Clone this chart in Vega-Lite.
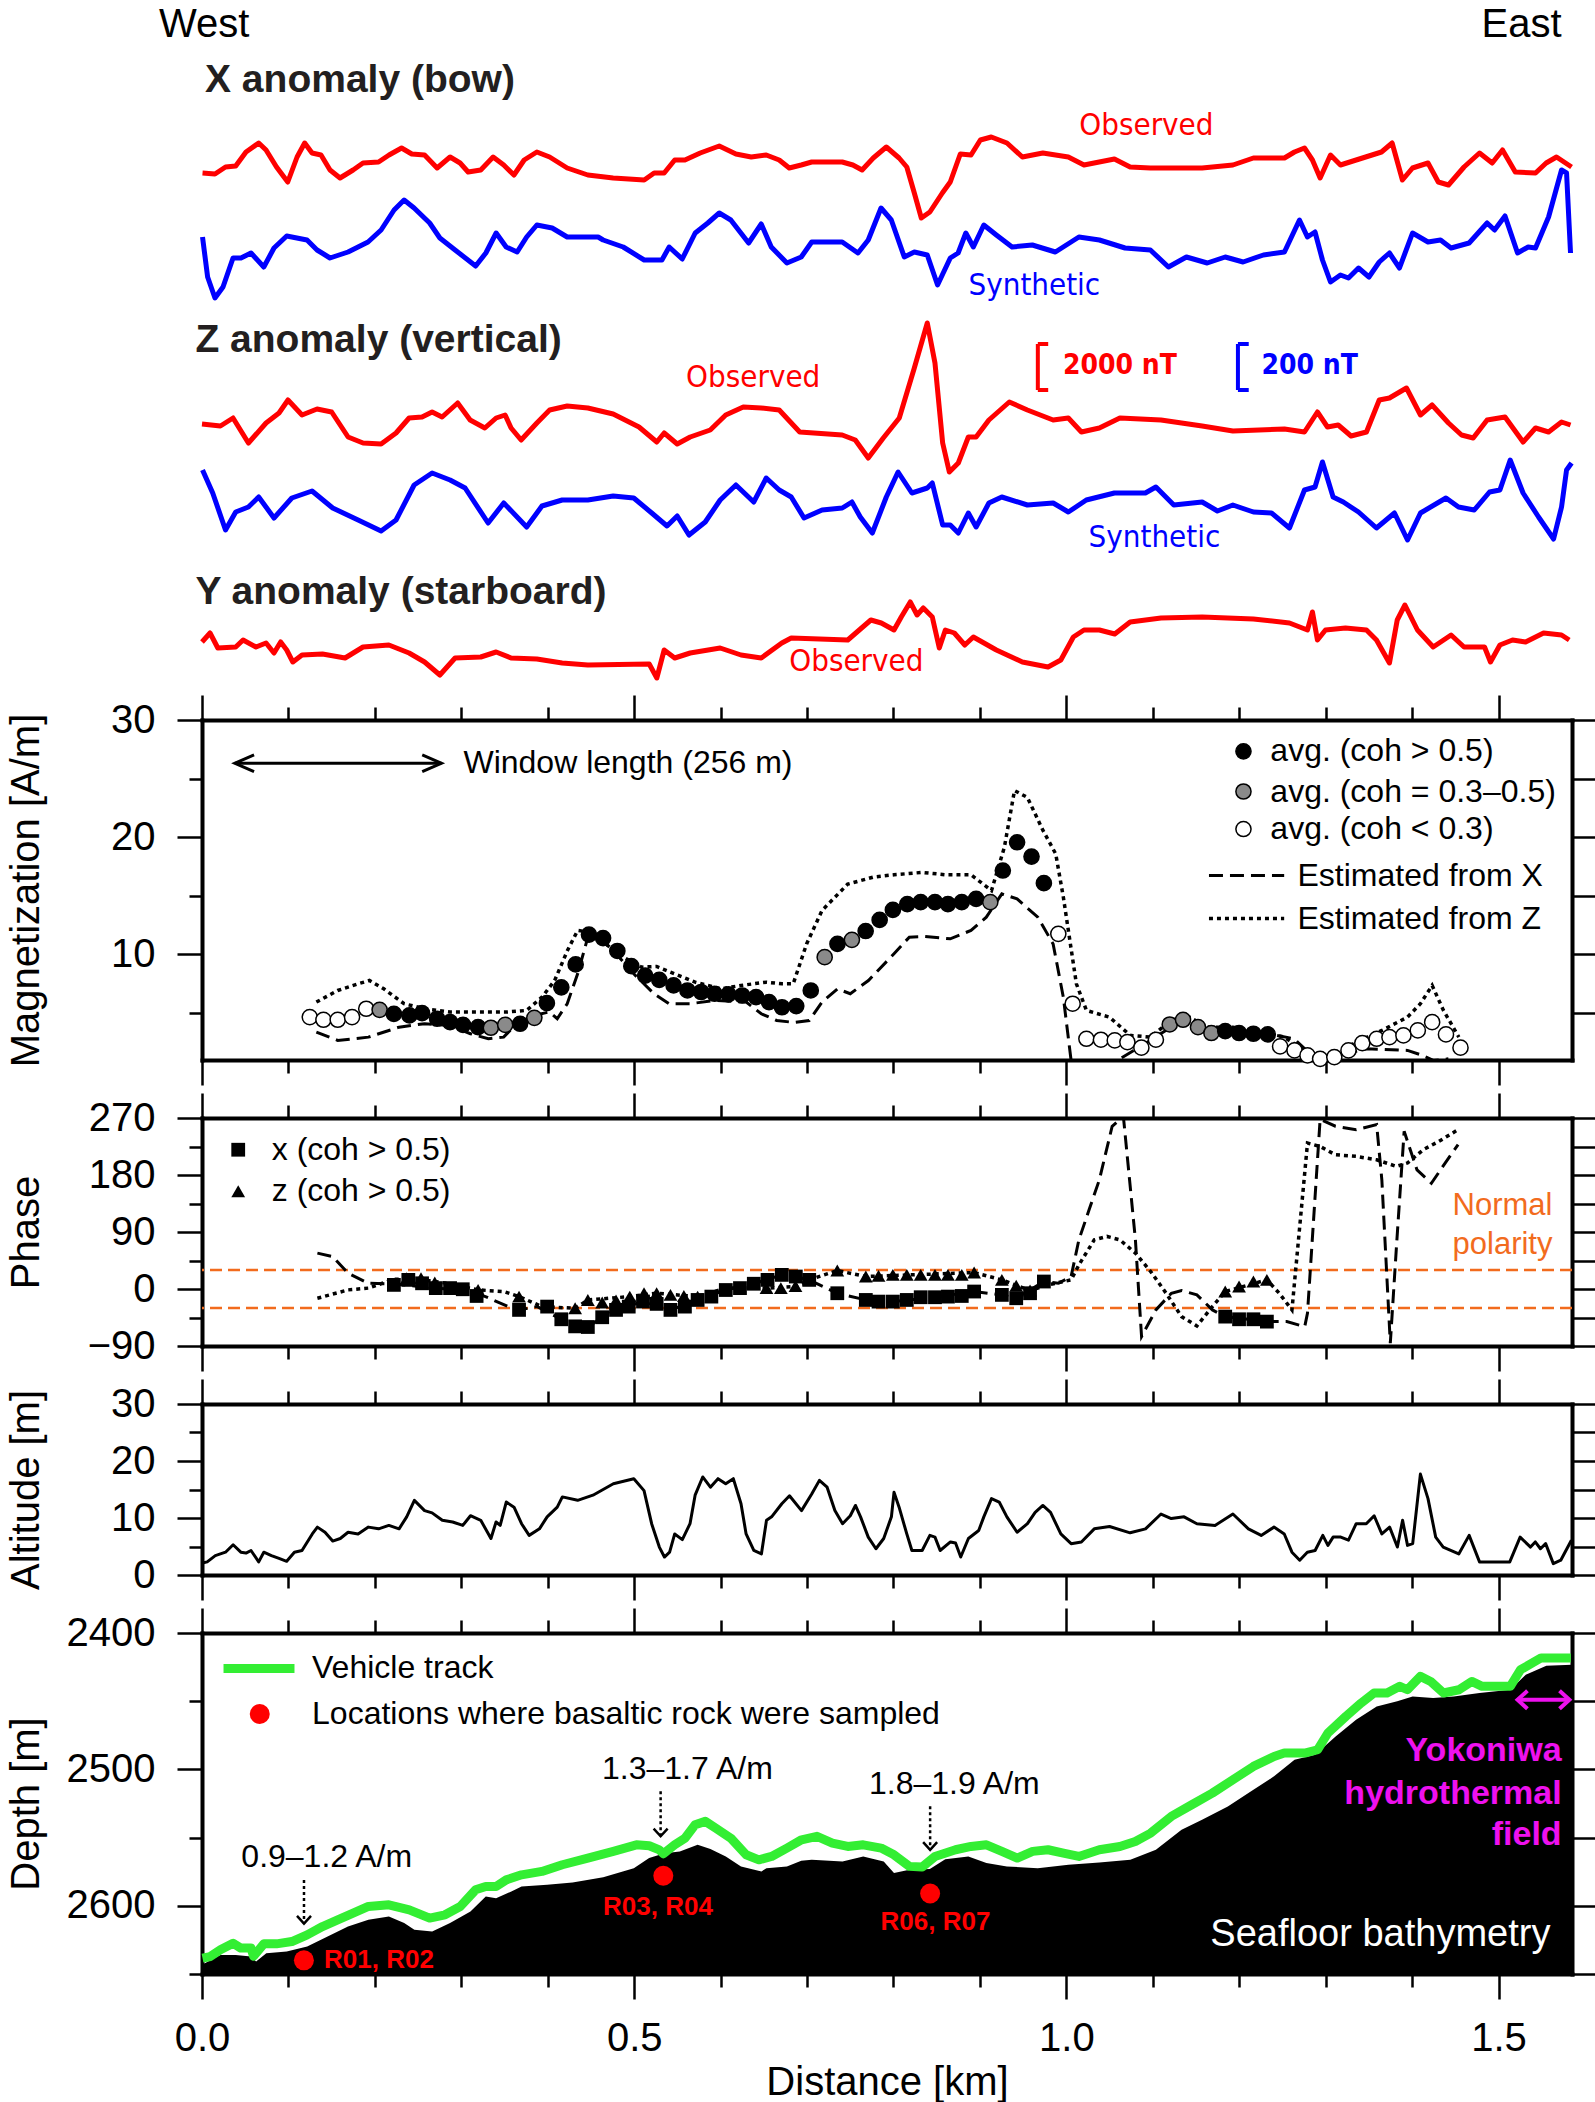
{
"$schema": "https://vega.github.io/schema/vega-lite/v6.json",
"background": "white",
"padding": {"left": 5, "top": 0, "right": 5, "bottom": 0},
"bounds": "flush",
"spacing": 58,
"config": {"view": {"stroke": null}, "font": "Liberation Sans",
 "axis": {"domainColor": "#000000", "domainWidth": 4, "domainCap": "square", "tickColor": "#000000", "tickWidth": 2.5, "labelColor": "#000000", "labelFont": "Liberation Sans", "labelFontSize": 40, "titleFont": "Liberation Sans", "titleFontSize": 40, "titleFontWeight": "normal", "titleColor": "#000000", "grid": false, "labelFlush": false, "labelOverlap": false, "labelBound": false}},
"datasets": {
 "xObs": [{"d":0.0006,"v":489},{"d":0.015,"v":488},{"d":0.0272,"v":495},{"d":0.039,"v":496},{"d":0.0509,"v":510},{"d":0.0656,"v":519},{"d":0.0741,"v":512},{"d":0.0862,"v":495},{"d":0.0992,"v":480},{"d":0.11,"v":505},{"d":0.1188,"v":519},{"d":0.1273,"v":509},{"d":0.1377,"v":507},{"d":0.1481,"v":492},{"d":0.1597,"v":484},{"d":0.1748,"v":492},{"d":0.1863,"v":499},{"d":0.2043,"v":500},{"d":0.2164,"v":507},{"d":0.2309,"v":514},{"d":0.2427,"v":508},{"d":0.2575,"v":507},{"d":0.272,"v":494},{"d":0.287,"v":505},{"d":0.2986,"v":499},{"d":0.3079,"v":490},{"d":0.3225,"v":492},{"d":0.3368,"v":505},{"d":0.3491,"v":497},{"d":0.3609,"v":487},{"d":0.3727,"v":502},{"d":0.3874,"v":510},{"d":0.4022,"v":505},{"d":0.4225,"v":494},{"d":0.4464,"v":487},{"d":0.4757,"v":484},{"d":0.5116,"v":482},{"d":0.5231,"v":489},{"d":0.5347,"v":489},{"d":0.5469,"v":502},{"d":0.5587,"v":502},{"d":0.5764,"v":509},{"d":0.5984,"v":516},{"d":0.6177,"v":508},{"d":0.6354,"v":505},{"d":0.6528,"v":507},{"d":0.6678,"v":502},{"d":0.6794,"v":494},{"d":0.6933,"v":497},{"d":0.7054,"v":500},{"d":0.7407,"v":500},{"d":0.753,"v":497},{"d":0.7637,"v":492},{"d":0.7766,"v":504},{"d":0.7917,"v":515},{"d":0.8065,"v":504},{"d":0.8154,"v":495},{"d":0.8241,"v":469},{"d":0.8322,"v":444},{"d":0.8421,"v":450},{"d":0.8565,"v":469},{"d":0.8657,"v":480},{"d":0.8773,"v":508},{"d":0.8897,"v":507},{"d":0.9005,"v":522},{"d":0.9132,"v":525},{"d":0.9313,"v":519},{"d":0.9491,"v":505},{"d":0.9728,"v":509},{"d":1.0023,"v":505},{"d":1.0204,"v":497},{"d":1.0556,"v":503},{"d":1.0738,"v":495},{"d":1.0972,"v":494},{"d":1.1571,"v":494},{"d":1.1927,"v":497},{"d":1.2164,"v":504},{"d":1.2523,"v":504},{"d":1.2639,"v":510},{"d":1.2755,"v":514},{"d":1.2847,"v":502},{"d":1.2936,"v":484},{"d":1.3056,"v":507},{"d":1.3171,"v":497},{"d":1.3353,"v":502},{"d":1.3646,"v":510},{"d":1.3769,"v":519},{"d":1.3888,"v":482},{"d":1.4005,"v":494},{"d":1.4184,"v":499},{"d":1.4303,"v":480},{"d":1.4421,"v":477},{"d":1.4601,"v":495},{"d":1.478,"v":509},{"d":1.4927,"v":499},{"d":1.5046,"v":512},{"d":1.5194,"v":490},{"d":1.5428,"v":489},{"d":1.5551,"v":499},{"d":1.5671,"v":505},{"d":1.5845,"v":495}],
 "xSyn": [{"d":0.0006,"v":425},{"d":0.0065,"v":385},{"d":0.015,"v":364},{"d":0.0243,"v":375},{"d":0.0359,"v":404},{"d":0.0451,"v":404},{"d":0.0567,"v":409},{"d":0.0715,"v":395},{"d":0.0833,"v":414},{"d":0.098,"v":426},{"d":0.1215,"v":422},{"d":0.1331,"v":412},{"d":0.1481,"v":404},{"d":0.169,"v":410},{"d":0.1921,"v":420},{"d":0.2072,"v":432},{"d":0.2222,"v":452},{"d":0.2338,"v":462},{"d":0.2454,"v":454},{"d":0.2634,"v":439},{"d":0.2752,"v":424},{"d":0.2928,"v":412},{"d":0.3166,"v":396},{"d":0.3284,"v":409},{"d":0.3403,"v":429},{"d":0.3519,"v":415},{"d":0.3646,"v":410},{"d":0.3756,"v":425},{"d":0.3874,"v":437},{"d":0.4051,"v":434},{"d":0.4225,"v":425},{"d":0.4583,"v":425},{"d":0.4641,"v":422},{"d":0.4873,"v":415},{"d":0.5116,"v":402},{"d":0.5321,"v":402},{"d":0.5405,"v":415},{"d":0.5556,"v":403},{"d":0.5706,"v":429},{"d":0.5852,"v":439},{"d":0.5984,"v":449},{"d":0.6118,"v":442},{"d":0.6324,"v":419},{"d":0.647,"v":438},{"d":0.6586,"v":415},{"d":0.6767,"v":399},{"d":0.6933,"v":405},{"d":0.7054,"v":420},{"d":0.7407,"v":420},{"d":0.7589,"v":409},{"d":0.7708,"v":422},{"d":0.7856,"v":454},{"d":0.7975,"v":442},{"d":0.8125,"v":405},{"d":0.8241,"v":410},{"d":0.8391,"v":407},{"d":0.851,"v":377},{"d":0.8657,"v":404},{"d":0.8748,"v":409},{"d":0.8837,"v":429},{"d":0.8924,"v":415},{"d":0.9045,"v":437},{"d":0.919,"v":427},{"d":0.9372,"v":415},{"d":0.9606,"v":417},{"d":0.9873,"v":410},{"d":1.0145,"v":425},{"d":1.0382,"v":422},{"d":1.0679,"v":414},{"d":1.0972,"v":412},{"d":1.1181,"v":395},{"d":1.1389,"v":405},{"d":1.163,"v":399},{"d":1.1838,"v":405},{"d":1.2045,"v":400},{"d":1.228,"v":407},{"d":1.2523,"v":410},{"d":1.2697,"v":442},{"d":1.2789,"v":425},{"d":1.2877,"v":430},{"d":1.2963,"v":402},{"d":1.3056,"v":380},{"d":1.3171,"v":387},{"d":1.3264,"v":384},{"d":1.338,"v":394},{"d":1.3501,"v":385},{"d":1.362,"v":400},{"d":1.3738,"v":409},{"d":1.3854,"v":394},{"d":1.4005,"v":429},{"d":1.4184,"v":420},{"d":1.4329,"v":422},{"d":1.4451,"v":414},{"d":1.466,"v":419},{"d":1.4868,"v":439},{"d":1.4954,"v":432},{"d":1.5075,"v":446},{"d":1.522,"v":409},{"d":1.5343,"v":415},{"d":1.5428,"v":414},{"d":1.5579,"v":445},{"d":1.5729,"v":492},{"d":1.5787,"v":489},{"d":1.5833,"v":409}],
 "zObs": [{"d":0.0,"v":238},{"d":0.0213,"v":236},{"d":0.0359,"v":244},{"d":0.0537,"v":219},{"d":0.0741,"v":239},{"d":0.0891,"v":249},{"d":0.0995,"v":262},{"d":0.1157,"v":247},{"d":0.1331,"v":253},{"d":0.15,"v":250},{"d":0.169,"v":225},{"d":0.1863,"v":219},{"d":0.2072,"v":218},{"d":0.2245,"v":229},{"d":0.2396,"v":244},{"d":0.2546,"v":245},{"d":0.2662,"v":250},{"d":0.2778,"v":245},{"d":0.2958,"v":259},{"d":0.3102,"v":242},{"d":0.3272,"v":234},{"d":0.3403,"v":244},{"d":0.3507,"v":247},{"d":0.3576,"v":234},{"d":0.3692,"v":222},{"d":0.3874,"v":239},{"d":0.4022,"v":252},{"d":0.4225,"v":256},{"d":0.4464,"v":254},{"d":0.4757,"v":248},{"d":0.5056,"v":235},{"d":0.5262,"v":220},{"d":0.5347,"v":229},{"d":0.5498,"v":218},{"d":0.5648,"v":225},{"d":0.588,"v":232},{"d":0.6059,"v":247},{"d":0.6262,"v":255},{"d":0.647,"v":254},{"d":0.6678,"v":252},{"d":0.6915,"v":230},{"d":0.7407,"v":227},{"d":0.7558,"v":222},{"d":0.7708,"v":204},{"d":0.7882,"v":224},{"d":0.8067,"v":244},{"d":0.8241,"v":294},{"d":0.8391,"v":339},{"d":0.848,"v":299},{"d":0.8569,"v":219},{"d":0.8646,"v":190},{"d":0.875,"v":199},{"d":0.8866,"v":225},{"d":0.8956,"v":225},{"d":0.9104,"v":242},{"d":0.934,"v":260},{"d":0.9549,"v":252},{"d":0.9847,"v":242},{"d":1.0023,"v":244},{"d":1.0174,"v":230},{"d":1.0382,"v":234},{"d":1.0619,"v":244},{"d":1.1095,"v":242},{"d":1.1571,"v":236},{"d":1.1927,"v":231},{"d":1.2523,"v":233},{"d":1.2755,"v":230},{"d":1.2905,"v":250},{"d":1.3021,"v":235},{"d":1.3145,"v":237},{"d":1.3294,"v":226},{"d":1.3472,"v":230},{"d":1.362,"v":262},{"d":1.3738,"v":264},{"d":1.3935,"v":274},{"d":1.4097,"v":247},{"d":1.4231,"v":257},{"d":1.4421,"v":239},{"d":1.4572,"v":227},{"d":1.4707,"v":224},{"d":1.4868,"v":242},{"d":1.5075,"v":245},{"d":1.5284,"v":220},{"d":1.5428,"v":234},{"d":1.5579,"v":230},{"d":1.5729,"v":240},{"d":1.5833,"v":237}],
 "zSyn": [{"d":0.0006,"v":192},{"d":0.0124,"v":169},{"d":0.0272,"v":132},{"d":0.039,"v":150},{"d":0.0537,"v":155},{"d":0.0656,"v":165},{"d":0.0833,"v":144},{"d":0.1039,"v":164},{"d":0.1273,"v":171},{"d":0.1512,"v":154},{"d":0.1806,"v":142},{"d":0.2072,"v":131},{"d":0.2245,"v":142},{"d":0.2454,"v":177},{"d":0.2662,"v":189},{"d":0.287,"v":182},{"d":0.3044,"v":174},{"d":0.331,"v":139},{"d":0.3491,"v":159},{"d":0.3756,"v":135},{"d":0.3933,"v":156},{"d":0.4167,"v":162},{"d":0.4464,"v":162},{"d":0.4757,"v":166},{"d":0.4995,"v":164},{"d":0.5203,"v":149},{"d":0.538,"v":136},{"d":0.5498,"v":146},{"d":0.5634,"v":127},{"d":0.5822,"v":140},{"d":0.5995,"v":162},{"d":0.6177,"v":177},{"d":0.6383,"v":160},{"d":0.6528,"v":184},{"d":0.6678,"v":172},{"d":0.6817,"v":165},{"d":0.6965,"v":144},{"d":0.7174,"v":152},{"d":0.7407,"v":154},{"d":0.7519,"v":160},{"d":0.7616,"v":145},{"d":0.7755,"v":129},{"d":0.7917,"v":165},{"d":0.8053,"v":190},{"d":0.8213,"v":169},{"d":0.8391,"v":174},{"d":0.8449,"v":179},{"d":0.8569,"v":137},{"d":0.8657,"v":137},{"d":0.875,"v":129},{"d":0.8866,"v":149},{"d":0.8956,"v":135},{"d":0.9104,"v":159},{"d":0.9253,"v":165},{"d":0.9549,"v":157},{"d":0.9847,"v":159},{"d":1.0023,"v":150},{"d":1.0231,"v":162},{"d":1.0556,"v":169},{"d":1.0914,"v":169},{"d":1.1036,"v":175},{"d":1.1243,"v":157},{"d":1.1571,"v":160},{"d":1.1748,"v":151},{"d":1.1927,"v":157},{"d":1.2164,"v":150},{"d":1.2373,"v":149},{"d":1.2581,"v":134},{"d":1.2755,"v":172},{"d":1.2877,"v":175},{"d":1.2963,"v":200},{"d":1.3086,"v":165},{"d":1.3204,"v":160},{"d":1.338,"v":150},{"d":1.3588,"v":134},{"d":1.3796,"v":149},{"d":1.3947,"v":122},{"d":1.4097,"v":149},{"d":1.4392,"v":164},{"d":1.4537,"v":155},{"d":1.4719,"v":152},{"d":1.4896,"v":170},{"d":1.5016,"v":172},{"d":1.5135,"v":202},{"d":1.5284,"v":169},{"d":1.5463,"v":145},{"d":1.5637,"v":123},{"d":1.5729,"v":155},{"d":1.5787,"v":192},{"d":1.5845,"v":199}],
 "yObs": [{"d":0.0,"v":20},{"d":0.0093,"v":29},{"d":0.0183,"v":14},{"d":0.039,"v":15},{"d":0.0475,"v":22},{"d":0.0625,"v":15},{"d":0.0741,"v":19},{"d":0.0833,"v":9},{"d":0.091,"v":20},{"d":0.098,"v":12},{"d":0.1051,"v":0},{"d":0.1157,"v":7},{"d":0.1394,"v":8},{"d":0.1655,"v":4},{"d":0.1863,"v":15},{"d":0.2162,"v":17},{"d":0.2396,"v":9},{"d":0.2575,"v":0},{"d":0.2752,"v":-13},{"d":0.2928,"v":4},{"d":0.3225,"v":5},{"d":0.3403,"v":10},{"d":0.3576,"v":4},{"d":0.3874,"v":3},{"d":0.4167,"v":-1},{"d":0.4464,"v":-3},{"d":0.5174,"v":-2},{"d":0.5262,"v":-16},{"d":0.5347,"v":12},{"d":0.5469,"v":4},{"d":0.5648,"v":9},{"d":0.5995,"v":14},{"d":0.6236,"v":7},{"d":0.647,"v":4},{"d":0.6708,"v":19},{"d":0.6817,"v":24},{"d":0.7471,"v":22},{"d":0.7738,"v":42},{"d":0.7859,"v":39},{"d":0.8006,"v":32},{"d":0.809,"v":45},{"d":0.8194,"v":60},{"d":0.8273,"v":47},{"d":0.8345,"v":54},{"d":0.8449,"v":45},{"d":0.853,"v":14},{"d":0.86,"v":32},{"d":0.8704,"v":29},{"d":0.8825,"v":17},{"d":0.8924,"v":25},{"d":0.919,"v":12},{"d":0.9491,"v":0},{"d":0.9788,"v":-5},{"d":0.9936,"v":2},{"d":1.0081,"v":25},{"d":1.0204,"v":32},{"d":1.0382,"v":32},{"d":1.056,"v":28},{"d":1.0738,"v":40},{"d":1.1095,"v":44},{"d":1.1571,"v":45},{"d":1.2164,"v":43},{"d":1.2581,"v":39},{"d":1.2789,"v":32},{"d":1.2847,"v":50},{"d":1.2905,"v":22},{"d":1.2998,"v":32},{"d":1.3229,"v":34},{"d":1.3472,"v":32},{"d":1.3588,"v":22},{"d":1.3738,"v":-1},{"d":1.3828,"v":42},{"d":1.3917,"v":57},{"d":1.4062,"v":32},{"d":1.4244,"v":15},{"d":1.4451,"v":27},{"d":1.4601,"v":15},{"d":1.4838,"v":15},{"d":1.4907,"v":0},{"d":1.5016,"v":17},{"d":1.5162,"v":22},{"d":1.5313,"v":20},{"d":1.5521,"v":29},{"d":1.5729,"v":27},{"d":1.5818,"v":22}],
 "anomTitles": [{"text":"X anomaly (bow)","d":0.0035,"v":582},{"text":"Z anomaly (vertical)","d":-0.0076,"v":322},{"text":"Y anomaly (starboard)","d":-0.0076,"v":70}],
 "ewLabels": [{"text":"West","side":"W","d":-0.0498,"v":637},{"text":"East","side":"E","d":1.5729,"v":637}],
 "traceLabels": [{"text":"Observed","kind":"obs","d":1.0926,"v":536},{"text":"Observed","kind":"obs","d":0.6377,"v":284},{"text":"Observed","kind":"obs","d":0.757,"v":0},{"text":"Synthetic","kind":"syn","d":0.963,"v":376},{"text":"Synthetic","kind":"syn","d":1.1019,"v":124}],
 "scaleBars": [{"bar":"red","d":0.967,"d2":0.967,"v":272,"v2":318},{"bar":"red","d":0.967,"d2":0.979,"v":318,"v2":318},{"bar":"red","d":0.967,"d2":0.979,"v":272,"v2":272},{"bar":"blue","d":1.1985,"d2":1.1985,"v":272,"v2":318},{"bar":"blue","d":1.1985,"d2":1.211,"v":318,"v2":318},{"bar":"blue","d":1.1985,"d2":1.211,"v":272,"v2":272}],
 "scaleText": [{"bar":"red","text":"2000 nT","d":0.996,"v":296},{"bar":"blue","text":"200 nT","d":1.2257,"v":296}],
 "magDots": [{"d":0.1247,"m":4.66,"c":"lo"},{"d":0.1405,"m":4.43,"c":"lo"},{"d":0.157,"m":4.43,"c":"lo"},{"d":0.1736,"m":4.66,"c":"lo"},{"d":0.19,"m":5.37,"c":"lo"},{"d":0.2055,"m":5.28,"c":"mid"},{"d":0.222,"m":4.94,"c":"hi"},{"d":0.24,"m":4.8,"c":"hi"},{"d":0.2546,"m":5.0,"c":"hi"},{"d":0.272,"m":4.52,"c":"hi"},{"d":0.287,"m":4.23,"c":"hi"},{"d":0.302,"m":4.0,"c":"hi"},{"d":0.3194,"m":3.8,"c":"hi"},{"d":0.3342,"m":3.75,"c":"mid"},{"d":0.3508,"m":4.0,"c":"mid"},{"d":0.368,"m":4.09,"c":"hi"},{"d":0.3845,"m":4.6,"c":"mid"},{"d":0.399,"m":5.85,"c":"hi"},{"d":0.4157,"m":7.2,"c":"hi"},{"d":0.4323,"m":9.15,"c":"hi"},{"d":0.4477,"m":11.7,"c":"hi"},{"d":0.464,"m":11.4,"c":"hi"},{"d":0.4805,"m":10.3,"c":"hi"},{"d":0.4967,"m":9.0,"c":"hi"},{"d":0.5127,"m":8.2,"c":"hi"},{"d":0.529,"m":7.84,"c":"hi"},{"d":0.5456,"m":7.36,"c":"hi"},{"d":0.5616,"m":6.93,"c":"hi"},{"d":0.5775,"m":6.8,"c":"hi"},{"d":0.593,"m":6.65,"c":"hi"},{"d":0.609,"m":6.6,"c":"hi"},{"d":0.625,"m":6.5,"c":"hi"},{"d":0.641,"m":6.36,"c":"hi"},{"d":0.656,"m":5.94,"c":"hi"},{"d":0.671,"m":5.5,"c":"hi"},{"d":0.6875,"m":5.6,"c":"hi"},{"d":0.7043,"m":6.93,"c":"hi"},{"d":0.7204,"m":9.77,"c":"mid"},{"d":0.7352,"m":10.9,"c":"hi"},{"d":0.7519,"m":11.25,"c":"mid"},{"d":0.7678,"m":12.0,"c":"hi"},{"d":0.784,"m":12.95,"c":"hi"},{"d":0.7993,"m":13.8,"c":"hi"},{"d":0.816,"m":14.3,"c":"hi"},{"d":0.8315,"m":14.46,"c":"hi"},{"d":0.848,"m":14.46,"c":"hi"},{"d":0.863,"m":14.3,"c":"hi"},{"d":0.879,"m":14.46,"c":"hi"},{"d":0.8956,"m":14.74,"c":"hi"},{"d":0.912,"m":14.46,"c":"mid"},{"d":0.9265,"m":17.16,"c":"hi"},{"d":0.943,"m":19.57,"c":"hi"},{"d":0.9597,"m":18.35,"c":"hi"},{"d":0.974,"m":16.08,"c":"hi"},{"d":0.9907,"m":11.76,"c":"lo"},{"d":1.0073,"m":5.8,"c":"lo"},{"d":1.0232,"m":2.81,"c":"lo"},{"d":1.04,"m":2.73,"c":"lo"},{"d":1.056,"m":2.67,"c":"lo"},{"d":1.0706,"m":2.53,"c":"lo"},{"d":1.0868,"m":2.05,"c":"lo"},{"d":1.1036,"m":2.73,"c":"lo"},{"d":1.1196,"m":4.03,"c":"mid"},{"d":1.135,"m":4.43,"c":"mid"},{"d":1.1523,"m":3.8,"c":"mid"},{"d":1.1678,"m":3.3,"c":"mid"},{"d":1.1838,"m":3.47,"c":"hi"},{"d":1.1998,"m":3.3,"c":"hi"},{"d":1.2164,"m":3.24,"c":"hi"},{"d":1.233,"m":3.18,"c":"hi"},{"d":1.2473,"m":2.16,"c":"lo"},{"d":1.264,"m":1.82,"c":"lo"},{"d":1.279,"m":1.39,"c":"lo"},{"d":1.2936,"m":1.1,"c":"lo"},{"d":1.31,"m":1.25,"c":"lo"},{"d":1.3264,"m":1.82,"c":"lo"},{"d":1.3424,"m":2.44,"c":"lo"},{"d":1.359,"m":2.81,"c":"lo"},{"d":1.3738,"m":2.95,"c":"lo"},{"d":1.39,"m":3.1,"c":"lo"},{"d":1.4066,"m":3.52,"c":"lo"},{"d":1.4232,"m":4.23,"c":"lo"},{"d":1.4392,"m":3.18,"c":"lo"},{"d":1.456,"m":2.05,"c":"lo"}],
 "magX": [{"d":0.1323,"m":3.38},{"d":0.157,"m":2.67},{"d":0.1925,"m":2.95},{"d":0.228,"m":3.8},{"d":0.2575,"m":4.1},{"d":0.287,"m":3.95},{"d":0.3106,"m":3.24},{"d":0.3313,"m":2.81},{"d":0.349,"m":2.95},{"d":0.3638,"m":4.1},{"d":0.384,"m":4.8},{"d":0.402,"m":5.1},{"d":0.411,"m":4.52},{"d":0.4225,"m":5.8},{"d":0.4346,"m":8.35},{"d":0.4465,"m":11.5},{"d":0.455,"m":11.76},{"d":0.4757,"m":10.34},{"d":0.4995,"m":8.35},{"d":0.523,"m":6.65},{"d":0.5405,"m":5.8},{"d":0.5646,"m":5.8},{"d":0.594,"m":6.08},{"d":0.6296,"m":5.94},{"d":0.647,"m":4.94},{"d":0.665,"m":4.37},{"d":0.685,"m":4.2},{"d":0.7025,"m":4.37},{"d":0.7173,"m":5.94},{"d":0.7352,"m":7.07},{"d":0.75,"m":6.65},{"d":0.771,"m":7.78},{"d":0.8006,"m":10.06},{"d":0.8183,"m":11.48},{"d":0.8362,"m":11.53},{"d":0.8657,"m":11.34},{"d":0.8897,"m":12.05},{"d":0.9074,"m":13.18},{"d":0.9254,"m":15.17},{"d":0.943,"m":14.74},{"d":0.967,"m":13.18},{"d":0.9847,"m":10.9},{"d":0.9965,"m":6.36},{"d":1.0055,"m":0.96},{"d":1.02,"m":-0.5},{"d":1.045,"m":-0.5},{"d":1.062,"m":1.1},{"d":1.08,"m":1.9},{"d":1.097,"m":2.67},{"d":1.133,"m":4.37},{"d":1.169,"m":3.52},{"d":1.1986,"m":3.24},{"d":1.234,"m":3.24},{"d":1.2636,"m":2.81},{"d":1.2818,"m":1.53},{"d":1.294,"m":0.96},{"d":1.305,"m":0.3},{"d":1.315,"m":0.6},{"d":1.323,"m":1.53},{"d":1.347,"m":1.96},{"d":1.3947,"m":1.82},{"d":1.412,"m":1.39},{"d":1.4244,"m":0.96},{"d":1.442,"m":1.1}],
 "magZ": [{"d":0.1323,"m":5.94},{"d":0.157,"m":6.93},{"d":0.1806,"m":7.5},{"d":0.1937,"m":7.78},{"d":0.2103,"m":7.07},{"d":0.2338,"m":5.8},{"d":0.2575,"m":5.37},{"d":0.287,"m":5.09},{"d":0.3225,"m":5.09},{"d":0.352,"m":5.09},{"d":0.3756,"m":5.23},{"d":0.3933,"m":6.36},{"d":0.408,"m":7.78},{"d":0.4228,"m":10.34},{"d":0.4346,"m":12.05},{"d":0.4494,"m":11.9},{"d":0.467,"m":10.9},{"d":0.4877,"m":9.77},{"d":0.5084,"m":8.92},{"d":0.526,"m":8.98},{"d":0.547,"m":8.35},{"d":0.5706,"m":7.64},{"d":0.6,"m":7.07},{"d":0.6236,"m":7.36},{"d":0.653,"m":7.64},{"d":0.671,"m":7.5},{"d":0.684,"m":7.5},{"d":0.6995,"m":10.9},{"d":0.7173,"m":13.75},{"d":0.747,"m":16.0},{"d":0.7766,"m":16.6},{"d":0.8006,"m":16.8},{"d":0.8332,"m":17.0},{"d":0.86,"m":16.8},{"d":0.8897,"m":16.8},{"d":0.9134,"m":15.45},{"d":0.9283,"m":19.15},{"d":0.94,"m":23.98},{"d":0.9549,"m":23.4},{"d":0.9728,"m":20.6},{"d":0.9877,"m":18.58},{"d":0.9965,"m":14.9},{"d":1.0116,"m":7.5},{"d":1.0232,"m":5.23},{"d":1.0498,"m":4.66},{"d":1.074,"m":3.1},{"d":1.0972,"m":2.95},{"d":1.1214,"m":4.37},{"d":1.1389,"m":4.8},{"d":1.163,"m":3.8},{"d":1.1927,"m":3.8},{"d":1.228,"m":3.38},{"d":1.252,"m":2.95},{"d":1.2758,"m":1.82},{"d":1.2936,"m":1.25},{"d":1.3113,"m":1.39},{"d":1.3353,"m":2.53},{"d":1.365,"m":3.52},{"d":1.3947,"m":4.66},{"d":1.4096,"m":5.8},{"d":1.4232,"m":7.36},{"d":1.4363,"m":5.23},{"d":1.4541,"m":2.95}],
 "magLegendSym": [{"d":1.2049,"m":27.33,"c":"hi"},{"d":1.2049,"m":23.9,"c":"mid"},{"d":1.2049,"m":20.7,"c":"lo"}],
 "magLegendText": [{"d":1.236,"m":27.33,"text":"avg. (coh > 0.5)"},{"d":1.236,"m":23.9,"text":"avg. (coh = 0.3–0.5)"},{"d":1.236,"m":20.7,"text":"avg. (coh < 0.3)"},{"d":1.2674,"m":16.73,"text":"Estimated from X"},{"d":1.2674,"m":13.06,"text":"Estimated from Z"},{"d":0.3025,"m":26.31,"text":"Window length (256 m)"}],
 "magLegendLines": [{"src":"X","d":1.165,"d2":1.252,"m":16.73},{"src":"Z","d":1.165,"d2":1.252,"m":13.06}],
 "windowArrow": [{"d":0.038,"d2":0.277,"m":26.31}],
 "windowHeads": [{"end":"L","d":0.038,"m":26.31},{"end":"R","d":0.277,"m":26.31}],
 "phasePts": [{"d":0.222,"p":6.5,"comp":"x"},{"d":0.2387,"p":14.4,"comp":"x"},{"d":0.2546,"p":9,"comp":"x"},{"d":0.2705,"p":1.4,"comp":"x"},{"d":0.287,"p":1.4,"comp":"x"},{"d":0.3017,"p":-0.4,"comp":"x"},{"d":0.3177,"p":-11,"comp":"x"},{"d":0.3668,"p":-33,"comp":"x"},{"d":0.3993,"p":-27.8,"comp":"x"},{"d":0.4157,"p":-47.8,"comp":"x"},{"d":0.4317,"p":-59,"comp":"x"},{"d":0.4464,"p":-60,"comp":"x"},{"d":0.463,"p":-44.6,"comp":"x"},{"d":0.479,"p":-33,"comp":"x"},{"d":0.4937,"p":-27.8,"comp":"x"},{"d":0.5102,"p":-19.8,"comp":"x"},{"d":0.526,"p":-23.5,"comp":"x"},{"d":0.542,"p":-33,"comp":"x"},{"d":0.5587,"p":-27.8,"comp":"x"},{"d":0.5734,"p":-17.3,"comp":"x"},{"d":0.5893,"p":-12,"comp":"x"},{"d":0.606,"p":-1.6,"comp":"x"},{"d":0.6224,"p":1.4,"comp":"x"},{"d":0.6384,"p":8.3,"comp":"x"},{"d":0.6543,"p":14.4,"comp":"x"},{"d":0.6708,"p":22.3,"comp":"x"},{"d":0.687,"p":19.7,"comp":"x"},{"d":0.7025,"p":14.4,"comp":"x"},{"d":0.735,"p":-6.7,"comp":"x"},{"d":0.768,"p":-17.3,"comp":"x"},{"d":0.7827,"p":-19.9,"comp":"x"},{"d":0.7993,"p":-19.9,"comp":"x"},{"d":0.8154,"p":-17.3,"comp":"x"},{"d":0.8315,"p":-13,"comp":"x"},{"d":0.848,"p":-13,"comp":"x"},{"d":0.863,"p":-12,"comp":"x"},{"d":0.879,"p":-11,"comp":"x"},{"d":0.8933,"p":-4,"comp":"x"},{"d":0.9254,"p":-9.3,"comp":"x"},{"d":0.942,"p":-14.6,"comp":"x"},{"d":0.958,"p":-6.7,"comp":"x"},{"d":0.974,"p":11.8,"comp":"x"},{"d":1.1838,"p":-43.6,"comp":"x"},{"d":1.1998,"p":-47.8,"comp":"x"},{"d":1.2164,"p":-47.8,"comp":"x"},{"d":1.232,"p":-51.5,"comp":"x"},
  {"d":0.2368,"p":17,"comp":"z"},{"d":0.2534,"p":17,"comp":"z"},{"d":0.2693,"p":10.2,"comp":"z"},{"d":0.3194,"p":-1.4,"comp":"z"},{"d":0.3668,"p":-12,"comp":"z"},{"d":0.4317,"p":-30.4,"comp":"z"},{"d":0.4464,"p":-17.3,"comp":"z"},{"d":0.463,"p":-21.4,"comp":"z"},{"d":0.479,"p":-18.3,"comp":"z"},{"d":0.4949,"p":-12,"comp":"z"},{"d":0.5114,"p":-6.7,"comp":"z"},{"d":0.526,"p":-6.7,"comp":"z"},{"d":0.542,"p":-9.3,"comp":"z"},{"d":0.5575,"p":-11,"comp":"z"},{"d":0.5734,"p":-12,"comp":"z"},{"d":0.6531,"p":1.4,"comp":"z"},{"d":0.6697,"p":1.4,"comp":"z"},{"d":0.6866,"p":4.5,"comp":"z"},{"d":0.7025,"p":14.4,"comp":"z"},{"d":0.735,"p":29.2,"comp":"z"},{"d":0.768,"p":19.7,"comp":"z"},{"d":0.7827,"p":20.7,"comp":"z"},{"d":0.7993,"p":22.3,"comp":"z"},{"d":0.8154,"p":22.3,"comp":"z"},{"d":0.8315,"p":22.3,"comp":"z"},{"d":0.848,"p":22.3,"comp":"z"},{"d":0.863,"p":22.3,"comp":"z"},{"d":0.879,"p":22.3,"comp":"z"},{"d":0.8933,"p":26,"comp":"z"},{"d":0.9254,"p":14.4,"comp":"z"},{"d":0.942,"p":5,"comp":"z"},{"d":0.958,"p":-2.4,"comp":"z"},{"d":1.1838,"p":-4,"comp":"z"},{"d":1.1998,"p":4,"comp":"z"},{"d":1.2164,"p":11.8,"comp":"z"},{"d":1.232,"p":14.4,"comp":"z"}],
 "phaseX": [{"d":0.1335,"p":56.6},{"d":0.151,"p":51.3},{"d":0.169,"p":25},{"d":0.1925,"p":9},{"d":0.222,"p":8},{"d":0.2693,"p":1.4},{"d":0.2987,"p":-1.4},{"d":0.328,"p":-12},{"d":0.3543,"p":-27.8},{"d":0.3668,"p":-33},{"d":0.3878,"p":-27.8},{"d":0.4157,"p":-47.8},{"d":0.4317,"p":-59},{"d":0.4464,"p":-60},{"d":0.463,"p":-44.6},{"d":0.479,"p":-33},{"d":0.5102,"p":-19.8},{"d":0.542,"p":-33},{"d":0.5734,"p":-17.3},{"d":0.606,"p":-1.6},{"d":0.6384,"p":8.3},{"d":0.6708,"p":22.3},{"d":0.687,"p":19.6},{"d":0.7025,"p":14.4},{"d":0.735,"p":-6.7},{"d":0.768,"p":-17.3},{"d":0.7993,"p":-19.9},{"d":0.848,"p":-13},{"d":0.8933,"p":-4},{"d":0.9254,"p":-9.3},{"d":0.942,"p":-14.6},{"d":0.974,"p":11.8},{"d":0.9907,"p":9},{"d":1.0055,"p":19.7},{"d":1.0145,"p":77.6},{"d":1.0263,"p":125},{"d":1.0382,"p":172.5},{"d":1.053,"p":257},{"d":1.066,"p":272},{"d":1.0799,"p":77.6},{"d":1.087,"p":-75},{"d":1.1036,"p":-33},{"d":1.1215,"p":-6.7},{"d":1.1333,"p":-2.4},{"d":1.151,"p":-9.3},{"d":1.169,"p":-33},{"d":1.1838,"p":-43.6},{"d":1.232,"p":-51.5},{"d":1.255,"p":-51.5},{"d":1.2758,"p":-59.4},{"d":1.279,"p":-38},{"d":1.2936,"p":268},{"d":1.3113,"p":257},{"d":1.3353,"p":251.5},{"d":1.359,"p":259.5},{"d":1.365,"p":172.5},{"d":1.3748,"p":-85.7},{"d":1.3819,"p":67},{"d":1.3908,"p":249},{"d":1.4057,"p":188},{"d":1.4223,"p":167},{"d":1.4384,"p":199},{"d":1.4532,"p":228}],
 "phaseZ": [{"d":0.1335,"p":-14.6},{"d":0.169,"p":-1.4},{"d":0.1925,"p":1.4},{"d":0.222,"p":15.4},{"d":0.2514,"p":15.4},{"d":0.287,"p":8.3},{"d":0.3194,"p":-1.4},{"d":0.349,"p":-4},{"d":0.3668,"p":-12},{"d":0.3933,"p":-27.8},{"d":0.4317,"p":-30.4},{"d":0.4464,"p":-17.3},{"d":0.4949,"p":-12},{"d":0.526,"p":-6.7},{"d":0.5734,"p":-12},{"d":0.606,"p":1.4},{"d":0.6531,"p":1.4},{"d":0.687,"p":4},{"d":0.7025,"p":14.4},{"d":0.735,"p":29.2},{"d":0.768,"p":19.7},{"d":0.8933,"p":26},{"d":0.9254,"p":14.4},{"d":0.958,"p":-2.4},{"d":0.9788,"p":6.5},{"d":1.0055,"p":14.4},{"d":1.0145,"p":38},{"d":1.0323,"p":77.6},{"d":1.047,"p":83},{"d":1.062,"p":77.6},{"d":1.0799,"p":56.6},{"d":1.0975,"p":27.7},{"d":1.1154,"p":-6.7},{"d":1.1333,"p":-43.6},{"d":1.151,"p":-58.3},{"d":1.169,"p":-27.8},{"d":1.1838,"p":-4},{"d":1.232,"p":14.4},{"d":1.2463,"p":-6.7},{"d":1.261,"p":-33},{"d":1.279,"p":230.5},{"d":1.2936,"p":225},{"d":1.3113,"p":212},{"d":1.3353,"p":209.4},{"d":1.359,"p":204},{"d":1.3819,"p":193.6},{"d":1.3947,"p":199},{"d":1.413,"p":220},{"d":1.4308,"p":233},{"d":1.4532,"p":251.5}],
 "phaseLegendSym": [{"d":0.0419,"p":219.9,"comp":"x"},{"d":0.0419,"p":154.3,"comp":"z"}],
 "phaseLegendText": [{"d":0.0807,"p":219.9,"text":"x (coh > 0.5)"},{"d":0.0807,"p":154.3,"text":"z (coh > 0.5)"}],
 "polarityBand": [{"p":30},{"p":-30}],
 "polarityText": [{"d":1.5046,"p":131.3,"text":"Normal"},{"d":1.5046,"p":69.7,"text":"polarity"}],
 "alt": [{"d":0.0006,"a":2.1},{"d":0.006,"a":2.3},{"d":0.0154,"a":3.4},{"d":0.0272,"a":4.0},{"d":0.036,"a":5.3},{"d":0.0449,"a":4.0},{"d":0.0509,"a":3.85},{"d":0.0567,"a":4.3},{"d":0.0656,"a":2.3},{"d":0.0715,"a":4.0},{"d":0.0803,"a":3.4},{"d":0.0891,"a":2.9},{"d":0.098,"a":2.4},{"d":0.1069,"a":4.0},{"d":0.1157,"a":4.3},{"d":0.1276,"a":7.2},{"d":0.1335,"a":8.4},{"d":0.1423,"a":7.5},{"d":0.1512,"a":5.95},{"d":0.16,"a":6.4},{"d":0.169,"a":7.5},{"d":0.1806,"a":7.2},{"d":0.1925,"a":8.4},{"d":0.2043,"a":8.1},{"d":0.2162,"a":8.7},{"d":0.228,"a":8.1},{"d":0.2368,"a":10.2},{"d":0.2457,"a":13.1},{"d":0.2575,"a":11.3},{"d":0.2662,"a":10.9},{"d":0.278,"a":9.6},{"d":0.29,"a":9.3},{"d":0.3017,"a":8.7},{"d":0.3106,"a":10.4},{"d":0.3225,"a":9.6},{"d":0.3343,"a":6.4},{"d":0.3402,"a":9.3},{"d":0.345,"a":8.7},{"d":0.352,"a":12.8},{"d":0.361,"a":11.9},{"d":0.3697,"a":9.0},{"d":0.3785,"a":6.95},{"d":0.3904,"a":8.1},{"d":0.3993,"a":10.2},{"d":0.411,"a":11.9},{"d":0.4169,"a":13.7},{"d":0.4346,"a":13.1},{"d":0.4523,"a":14.0},{"d":0.4759,"a":16.0},{"d":0.4996,"a":16.9},{"d":0.5114,"a":14.8},{"d":0.5202,"a":9.0},{"d":0.5291,"a":4.9},{"d":0.535,"a":3.15},{"d":0.541,"a":4.0},{"d":0.5469,"a":7.2},{"d":0.5557,"a":6.2},{"d":0.5646,"a":9.0},{"d":0.5705,"a":14.0},{"d":0.5793,"a":17.2},{"d":0.5882,"a":15.4},{"d":0.597,"a":16.9},{"d":0.6059,"a":16.0},{"d":0.6147,"a":16.9},{"d":0.6236,"a":12.5},{"d":0.6295,"a":7.2},{"d":0.6384,"a":4.3},{"d":0.6472,"a":3.7},{"d":0.6531,"a":9.6},{"d":0.659,"a":10.2},{"d":0.6708,"a":12.5},{"d":0.6797,"a":13.9},{"d":0.6936,"a":11.3},{"d":0.7054,"a":14.2},{"d":0.7143,"a":16.6},{"d":0.7232,"a":15.4},{"d":0.7322,"a":11.3},{"d":0.7411,"a":9.0},{"d":0.75,"a":10.4},{"d":0.756,"a":12.2},{"d":0.7619,"a":10.2},{"d":0.7708,"a":6.65},{"d":0.7797,"a":4.6},{"d":0.7887,"a":6.4},{"d":0.7976,"a":10.2},{"d":0.8006,"a":14.5},{"d":0.8065,"a":11.9},{"d":0.8154,"a":7.2},{"d":0.8213,"a":4.3},{"d":0.8332,"a":4.3},{"d":0.8421,"a":6.95},{"d":0.848,"a":6.65},{"d":0.854,"a":4.3},{"d":0.8659,"a":5.8},{"d":0.8718,"a":5.6},{"d":0.8778,"a":3.15},{"d":0.8867,"a":6.4},{"d":0.8986,"a":7.8},{"d":0.9045,"a":10.2},{"d":0.9134,"a":13.4},{"d":0.9223,"a":12.8},{"d":0.9312,"a":10.2},{"d":0.943,"a":7.5},{"d":0.955,"a":9.0},{"d":0.9639,"a":11.0},{"d":0.9728,"a":12.2},{"d":0.9817,"a":11.0},{"d":0.9936,"a":7.2},{"d":1.0055,"a":5.5},{"d":1.0174,"a":5.8},{"d":1.0323,"a":8.1},{"d":1.05,"a":8.5},{"d":1.0738,"a":7.4},{"d":1.0916,"a":8.1},{"d":1.1095,"a":10.7},{"d":1.1214,"a":9.9},{"d":1.1362,"a":10.2},{"d":1.151,"a":9.0},{"d":1.172,"a":8.7},{"d":1.1927,"a":10.7},{"d":1.2106,"a":8.1},{"d":1.2254,"a":6.95},{"d":1.2402,"a":8.4},{"d":1.2521,"a":7.2},{"d":1.261,"a":4.0},{"d":1.27,"a":2.6},{"d":1.2788,"a":4.0},{"d":1.2878,"a":4.3},{"d":1.2967,"a":6.95},{"d":1.3026,"a":5.2},{"d":1.3086,"a":6.65},{"d":1.3175,"a":6.65},{"d":1.3264,"a":6.1},{"d":1.3353,"a":9.0},{"d":1.347,"a":9.0},{"d":1.3561,"a":10.4},{"d":1.365,"a":7.2},{"d":1.374,"a":8.4},{"d":1.383,"a":4.9},{"d":1.389,"a":9.6},{"d":1.3947,"a":5.2},{"d":1.4007,"a":5.5},{"d":1.4096,"a":17.7},{"d":1.4184,"a":13.4},{"d":1.4273,"a":6.65},{"d":1.436,"a":4.9},{"d":1.454,"a":3.7},{"d":1.466,"a":6.95},{"d":1.478,"a":2.3},{"d":1.4956,"a":2.3},{"d":1.513,"a":2.3},{"d":1.525,"a":6.65},{"d":1.537,"a":4.9},{"d":1.5425,"a":5.8},{"d":1.5485,"a":4.6},{"d":1.5545,"a":5.5},{"d":1.5634,"a":2.0},{"d":1.572,"a":2.6},{"d":1.5843,"a":6.1}],
 "track": [{"d":0.0006,"z":2638.4},{"d":0.0095,"z":2637.2},{"d":0.0213,"z":2632.3},{"d":0.036,"z":2627.4},{"d":0.0449,"z":2631},{"d":0.0567,"z":2631},{"d":0.0597,"z":2637},{"d":0.0715,"z":2627.9},{"d":0.0862,"z":2627.9},{"d":0.104,"z":2626.2},{"d":0.1217,"z":2621.3},{"d":0.1394,"z":2615.2},{"d":0.157,"z":2610.3},{"d":0.1748,"z":2605.4},{"d":0.1925,"z":2600.5},{"d":0.2162,"z":2599.3},{"d":0.2398,"z":2603},{"d":0.2634,"z":2609},{"d":0.2811,"z":2606.6},{"d":0.2988,"z":2600.5},{"d":0.3165,"z":2588.3},{"d":0.3283,"z":2585.8},{"d":0.3402,"z":2585.8},{"d":0.352,"z":2581},{"d":0.3697,"z":2577.3},{"d":0.3933,"z":2574.8},{"d":0.4169,"z":2569.9},{"d":0.4464,"z":2565},{"d":0.4759,"z":2560.1},{"d":0.5026,"z":2555.3},{"d":0.5174,"z":2556},{"d":0.5291,"z":2559},{"d":0.5338,"z":2561.9},{"d":0.5469,"z":2555.3},{"d":0.5587,"z":2550.4},{"d":0.5705,"z":2540.6},{"d":0.5823,"z":2538.1},{"d":0.5941,"z":2543},{"d":0.6118,"z":2550.4},{"d":0.6295,"z":2562.6},{"d":0.6443,"z":2566.3},{"d":0.659,"z":2563.8},{"d":0.6767,"z":2557.7},{"d":0.6936,"z":2551.6},{"d":0.7115,"z":2549.1},{"d":0.7293,"z":2554},{"d":0.7471,"z":2556.5},{"d":0.765,"z":2555.3},{"d":0.7857,"z":2557.7},{"d":0.8006,"z":2562.6},{"d":0.8184,"z":2571.1},{"d":0.8332,"z":2571.6},{"d":0.848,"z":2563.8},{"d":0.8718,"z":2558.9},{"d":0.8897,"z":2556.5},{"d":0.9075,"z":2555.3},{"d":0.9254,"z":2560.1},{"d":0.9432,"z":2565},{"d":0.961,"z":2560.1},{"d":0.9788,"z":2558.9},{"d":0.9966,"z":2561.4},{"d":1.0145,"z":2563.8},{"d":1.0382,"z":2558.9},{"d":1.062,"z":2556.5},{"d":1.0798,"z":2552.8},{"d":1.0976,"z":2546.7},{"d":1.1214,"z":2534.5},{"d":1.1451,"z":2525.9},{"d":1.1689,"z":2517.4},{"d":1.1927,"z":2507.6},{"d":1.2164,"z":2497.8},{"d":1.2403,"z":2490.5},{"d":1.2521,"z":2488},{"d":1.2758,"z":2488},{"d":1.2907,"z":2485.6},{"d":1.3026,"z":2473.3},{"d":1.3234,"z":2461.1},{"d":1.3412,"z":2451.3},{"d":1.356,"z":2444},{"d":1.371,"z":2444},{"d":1.3858,"z":2439.1},{"d":1.3947,"z":2441.6},{"d":1.4096,"z":2431.8},{"d":1.4214,"z":2435.5},{"d":1.4363,"z":2444},{"d":1.4542,"z":2441.6},{"d":1.469,"z":2435.5},{"d":1.481,"z":2439.1},{"d":1.5136,"z":2439.1},{"d":1.5255,"z":2426.9},{"d":1.5492,"z":2418.3},{"d":1.567,"z":2418.3},{"d":1.5836,"z":2418.3}],
 "bathy": [{"d":0.0,"z":2643.3},{"d":0.0213,"z":2636},{"d":0.039,"z":2636},{"d":0.0567,"z":2637.2},{"d":0.0626,"z":2640.8},{"d":0.0744,"z":2634.7},{"d":0.098,"z":2633.5},{"d":0.1217,"z":2629.8},{"d":0.1453,"z":2622.5},{"d":0.1689,"z":2615.2},{"d":0.1925,"z":2610.3},{"d":0.2162,"z":2607.8},{"d":0.2339,"z":2612.7},{"d":0.2457,"z":2617.6},{"d":0.2663,"z":2618.8},{"d":0.287,"z":2612.7},{"d":0.3106,"z":2604.2},{"d":0.3283,"z":2593.2},{"d":0.3402,"z":2594.4},{"d":0.3579,"z":2589.5},{"d":0.3697,"z":2585.8},{"d":0.3993,"z":2584.6},{"d":0.4287,"z":2582.9},{"d":0.4642,"z":2579},{"d":0.4996,"z":2572.4},{"d":0.5173,"z":2565},{"d":0.5351,"z":2561.4},{"d":0.5528,"z":2560.1},{"d":0.5734,"z":2555.3},{"d":0.5882,"z":2558.4},{"d":0.606,"z":2563.8},{"d":0.6236,"z":2571.1},{"d":0.6473,"z":2574.8},{"d":0.653,"z":2572.4},{"d":0.6767,"z":2571.1},{"d":0.6933,"z":2567},{"d":0.7054,"z":2566.3},{"d":0.741,"z":2567.5},{"d":0.765,"z":2563.8},{"d":0.7887,"z":2567.5},{"d":0.8006,"z":2576},{"d":0.8184,"z":2573.6},{"d":0.8421,"z":2573.1},{"d":0.8599,"z":2565.8},{"d":0.8866,"z":2563.8},{"d":0.9075,"z":2568.7},{"d":0.9312,"z":2571.1},{"d":0.9669,"z":2572.4},{"d":1.0024,"z":2569.9},{"d":1.0382,"z":2568.2},{"d":1.074,"z":2566.3},{"d":1.1036,"z":2558.9},{"d":1.1333,"z":2544.3},{"d":1.157,"z":2537},{"d":1.1868,"z":2527.2},{"d":1.2164,"z":2515},{"d":1.2403,"z":2505.1},{"d":1.264,"z":2492.9},{"d":1.2878,"z":2489.2},{"d":1.3115,"z":2475.8},{"d":1.3352,"z":2463.6},{"d":1.359,"z":2453.8},{"d":1.3828,"z":2450.1},{"d":1.4006,"z":2446.5},{"d":1.4244,"z":2447.7},{"d":1.4482,"z":2446.5},{"d":1.4779,"z":2444},{"d":1.5136,"z":2441.6},{"d":1.5315,"z":2430.6},{"d":1.5553,"z":2424},{"d":1.585,"z":2423.2}],
 "samples": [{"d":0.1179,"z":2640,"label":"R01, R02"},{"d":0.5337,"z":2578,"label":"R03, R04"},{"d":0.8424,"z":2591,"label":"R06, R07"}],
 "sampleLabels": [{"d":0.1412,"z":2640,"text":"R01, R02","pos":"left"},{"d":0.5275,"z":2601,"text":"R03, R04","pos":"center"},{"d":0.8486,"z":2611.6,"text":"R06, R07","pos":"center"}],
 "amText": [{"d":0.1443,"z":2564.5,"text":"0.9–1.2 A/m"},{"d":0.5616,"z":2499.5,"text":"1.3–1.7 A/m"},{"d":0.8704,"z":2510.5,"text":"1.8–1.9 A/m"}],
 "amArrows": [{"d":0.118,"top":2581,"bot":2613},{"d":0.5306,"top":2516,"bot":2549},{"d":0.8424,"top":2527,"bot":2559}],
 "depthLegendLine": [{"d":0.0249,"d2":0.107,"z":2426}],
 "depthLegendDot": [{"d":0.0668,"z":2459.4}],
 "depthLegendText": [{"d":0.1273,"z":2426,"text":"Vehicle track"},{"d":0.1273,"z":2459.4,"text":"Locations where basaltic rock were sampled"}],
 "yokoArrow": [{"d":1.522,"d2":1.582,"z":2449}],
 "yokoHeads": [{"end":"L","d":1.522,"z":2449},{"end":"R","d":1.582,"z":2449}],
 "yokoText": [{"d":1.573,"z":2486.6,"text":"Yokoniwa"},{"d":1.573,"z":2517.9,"text":"hydrothermal"},{"d":1.573,"z":2548.2,"text":"field"}],
 "seafloorText": [{"d":1.56,"z":2621.4,"text":"Seafloor bathymetry"}]
},
"vconcat": [
 {"width": 1370, "height": 662,
  "encoding": {"x": {"field": "d", "type": "quantitative", "scale": {"domain": [0, 1.585], "nice": false, "zero": false}, "axis": null},
               "y": {"field": "v", "type": "quantitative", "scale": {"domain": [0, 662], "nice": false, "zero": false}, "axis": null}},
  "layer": [
   {"data": {"name": "xObs"}, "mark": {"type": "line", "color": "#ff0000", "strokeWidth": 5, "strokeJoin": "round"}},
   {"data": {"name": "xSyn"}, "mark": {"type": "line", "color": "#0000ff", "strokeWidth": 5, "strokeJoin": "round"}},
   {"data": {"name": "zObs"}, "mark": {"type": "line", "color": "#ff0000", "strokeWidth": 5, "strokeJoin": "round"}},
   {"data": {"name": "zSyn"}, "mark": {"type": "line", "color": "#0000ff", "strokeWidth": 5, "strokeJoin": "round"}},
   {"data": {"name": "yObs"}, "mark": {"type": "line", "color": "#ff0000", "strokeWidth": 5, "strokeJoin": "round"}},
   {"data": {"name": "anomTitles"}, "mark": {"type": "text", "align": "left", "baseline": "middle", "font": "Liberation Sans", "fontWeight": "bold", "fontSize": 39, "color": "#231f20"}, "encoding": {"text": {"field": "text"}}},
   {"data": {"name": "ewLabels"}, "transform": [{"filter": "datum.side === 'W'"}], "mark": {"type": "text", "align": "left", "baseline": "middle", "font": "Liberation Sans", "fontSize": 40, "color": "#000000"}, "encoding": {"text": {"field": "text"}}},
   {"data": {"name": "ewLabels"}, "transform": [{"filter": "datum.side === 'E'"}], "mark": {"type": "text", "align": "right", "baseline": "middle", "font": "Liberation Sans", "fontSize": 40, "color": "#000000"}, "encoding": {"text": {"field": "text"}}},
   {"data": {"name": "traceLabels"}, "transform": [{"filter": "datum.kind === 'obs'"}], "mark": {"type": "text", "align": "center", "baseline": "middle", "font": "'DejaVu Sans Condensed', 'DejaVu Sans'", "fontSize": 31, "color": "#ff0000"}, "encoding": {"text": {"field": "text"}}},
   {"data": {"name": "traceLabels"}, "transform": [{"filter": "datum.kind === 'syn'"}], "mark": {"type": "text", "align": "center", "baseline": "middle", "font": "'DejaVu Sans Condensed', 'DejaVu Sans'", "fontSize": 31, "color": "#0000ff"}, "encoding": {"text": {"field": "text"}}},
   {"data": {"name": "scaleBars"}, "transform": [{"filter": "datum.bar === 'red'"}], "mark": {"type": "rule", "color": "#ff0000", "strokeWidth": 4}, "encoding": {"x2": {"field": "d2"}, "y2": {"field": "v2"}}},
   {"data": {"name": "scaleBars"}, "transform": [{"filter": "datum.bar === 'blue'"}], "mark": {"type": "rule", "color": "#0000ff", "strokeWidth": 4}, "encoding": {"x2": {"field": "d2"}, "y2": {"field": "v2"}}},
   {"data": {"name": "scaleText"}, "transform": [{"filter": "datum.bar === 'red'"}], "mark": {"type": "text", "align": "left", "baseline": "middle", "font": "'DejaVu Sans Condensed', 'DejaVu Sans'", "fontWeight": "bold", "fontSize": 28, "color": "#ff0000"}, "encoding": {"text": {"field": "text"}}},
   {"data": {"name": "scaleText"}, "transform": [{"filter": "datum.bar === 'blue'"}], "mark": {"type": "text", "align": "left", "baseline": "middle", "font": "'DejaVu Sans Condensed', 'DejaVu Sans'", "fontWeight": "bold", "fontSize": 28, "color": "#0000ff"}, "encoding": {"text": {"field": "text"}}}
  ]},
 {"width": 1370, "height": 340,
  "layer": [
   {"data": {"name": "magX"}, "mark": {"type": "line", "color": "#000000", "strokeWidth": 3, "strokeDash": [14, 7], "clip": true},
    "encoding": {"x": {"field": "d", "type": "quantitative", "scale": {"domain": [0, 1.585], "nice": false, "zero": false}, "axis": {"orient": "bottom", "values": [0, 0.5, 1, 1.5], "tickSize": 25, "labels": false, "title": null, "domain": true}},
                 "y": {"field": "m", "type": "quantitative", "scale": {"domain": [1, 30], "nice": false, "zero": false}, "axis": {"orient": "left", "values": [10, 20, 30], "tickSize": 25, "labelPadding": 22, "title": "Magnetization [A/m]", "titleX": -164, "titleBaseline": "alphabetic", "domain": true}}}},
   {"data": {"name": "magZ"}, "mark": {"type": "line", "color": "#000000", "strokeWidth": 3.5, "strokeDash": [4, 4], "clip": true},
    "encoding": {"x": {"field": "d", "type": "quantitative", "axis": {"orient": "bottom", "values": [0.1, 0.2, 0.3, 0.4, 0.6, 0.7, 0.8, 0.9, 1.1, 1.2, 1.3, 1.4], "tickSize": 13, "labels": false, "title": null, "domain": false}},
                 "y": {"field": "m", "type": "quantitative", "axis": {"orient": "left", "values": [5, 15, 25], "tickSize": 13, "labels": false, "title": null, "domain": false}}}},
   {"data": {"name": "magDots"}, "mark": {"type": "circle", "size": 230, "stroke": "#000000", "strokeWidth": 1.5, "opacity": 1},
    "encoding": {"x": {"field": "d", "type": "quantitative", "axis": {"orient": "top", "values": [0, 0.5, 1, 1.5], "tickSize": 25, "labels": false, "title": null, "domain": true}},
                 "y": {"field": "m", "type": "quantitative", "axis": {"orient": "right", "values": [5, 10, 15, 20, 25, 30], "tickSize": 23, "labels": false, "title": null, "domain": true}},
                 "fill": {"field": "c", "type": "nominal", "scale": {"domain": ["hi", "mid", "lo"], "range": ["#000000", "#8a8a8a", "#ffffff"]}, "legend": null}}},
   {"data": {"name": "magLegendSym"}, "mark": {"type": "circle", "size": 230, "stroke": "#000000", "strokeWidth": 1.5, "opacity": 1},
    "encoding": {"x": {"field": "d", "type": "quantitative", "axis": {"orient": "top", "values": [0.1, 0.2, 0.3, 0.4, 0.6, 0.7, 0.8, 0.9, 1.1, 1.2, 1.3, 1.4], "tickSize": 13, "labels": false, "title": null, "domain": false}},
                 "y": {"field": "m", "type": "quantitative", "axis": null},
                 "fill": {"field": "c", "type": "nominal", "legend": null}}},
   {"data": {"name": "magLegendText"}, "mark": {"type": "text", "align": "left", "baseline": "middle", "font": "Liberation Sans", "fontSize": 32, "color": "#000000"},
    "encoding": {"x": {"field": "d", "type": "quantitative", "axis": null}, "y": {"field": "m", "type": "quantitative", "axis": null}, "text": {"field": "text"}}},
   {"data": {"name": "magLegendLines"}, "transform": [{"filter": "datum.src === 'X'"}], "mark": {"type": "rule", "color": "#000000", "strokeWidth": 3, "strokeDash": [14, 7]},
    "encoding": {"x": {"field": "d", "type": "quantitative", "axis": null}, "x2": {"field": "d2"}, "y": {"field": "m", "type": "quantitative", "axis": null}}},
   {"data": {"name": "magLegendLines"}, "transform": [{"filter": "datum.src === 'Z'"}], "mark": {"type": "rule", "color": "#000000", "strokeWidth": 3.5, "strokeDash": [4, 4]},
    "encoding": {"x": {"field": "d", "type": "quantitative", "axis": null}, "x2": {"field": "d2"}, "y": {"field": "m", "type": "quantitative", "axis": null}}},
   {"data": {"name": "windowArrow"}, "mark": {"type": "rule", "color": "#000000", "strokeWidth": 3},
    "encoding": {"x": {"field": "d", "type": "quantitative", "axis": null}, "x2": {"field": "d2"}, "y": {"field": "m", "type": "quantitative", "axis": null}}},
   {"data": {"name": "windowHeads"}, "transform": [{"filter": "datum.end === 'L'"}], "mark": {"type": "point", "shape": "M 1.6 -0.7 L 0 0 L 1.6 0.7", "filled": false, "size": 576, "strokeWidth": 3, "color": "#000000", "opacity": 1},
    "encoding": {"x": {"field": "d", "type": "quantitative", "axis": null}, "y": {"field": "m", "type": "quantitative", "axis": null}}},
   {"data": {"name": "windowHeads"}, "transform": [{"filter": "datum.end === 'R'"}], "mark": {"type": "point", "shape": "M -1.6 -0.7 L 0 0 L -1.6 0.7", "filled": false, "size": 576, "strokeWidth": 3, "color": "#000000", "opacity": 1},
    "encoding": {"x": {"field": "d", "type": "quantitative", "axis": null}, "y": {"field": "m", "type": "quantitative", "axis": null}}}
  ],
  "resolve": {"axis": {"x": "independent", "y": "independent"}}},
 {"width": 1370, "height": 228,
  "layer": [
   {"data": {"name": "polarityBand"}, "mark": {"type": "rule", "color": "#f26b1d", "strokeWidth": 2.5, "strokeDash": [12, 6]},
    "encoding": {"y": {"field": "p", "type": "quantitative", "scale": {"domain": [-90, 270], "nice": false, "zero": false}, "axis": {"orient": "left", "values": [-90, 0, 90, 180, 270], "tickSize": 25, "labelPadding": 22, "title": "Phase", "titleX": -164, "titleBaseline": "alphabetic", "domain": true}}}},
   {"data": {"name": "phaseX"}, "mark": {"type": "line", "color": "#000000", "strokeWidth": 3, "strokeDash": [14, 7], "clip": true},
    "encoding": {"x": {"field": "d", "type": "quantitative", "scale": {"domain": [0, 1.585], "nice": false, "zero": false}, "axis": {"orient": "bottom", "values": [0, 0.5, 1, 1.5], "tickSize": 25, "labels": false, "title": null, "domain": true}},
                 "y": {"field": "p", "type": "quantitative", "axis": {"orient": "left", "values": [-45, 45, 135, 225], "tickSize": 13, "labels": false, "title": null, "domain": false}}}},
   {"data": {"name": "phaseZ"}, "mark": {"type": "line", "color": "#000000", "strokeWidth": 3.5, "strokeDash": [4, 4], "clip": true},
    "encoding": {"x": {"field": "d", "type": "quantitative", "axis": {"orient": "bottom", "values": [0.1, 0.2, 0.3, 0.4, 0.6, 0.7, 0.8, 0.9, 1.1, 1.2, 1.3, 1.4], "tickSize": 13, "labels": false, "title": null, "domain": false}},
                 "y": {"field": "p", "type": "quantitative", "axis": {"orient": "right", "values": [-90, -45, 0, 45, 90, 135, 180, 225, 270], "tickSize": 23, "labels": false, "title": null, "domain": true}}}},
   {"data": {"name": "phasePts"}, "mark": {"type": "point", "filled": true, "color": "#000000", "size": 190, "opacity": 1},
    "encoding": {"x": {"field": "d", "type": "quantitative", "axis": {"orient": "top", "values": [0, 0.5, 1, 1.5], "tickSize": 25, "labels": false, "title": null, "domain": true}},
                 "y": {"field": "p", "type": "quantitative", "axis": null},
                 "shape": {"field": "comp", "type": "nominal", "scale": {"domain": ["x", "z"], "range": ["square", "triangle-up"]}, "legend": null}}},
   {"data": {"name": "phaseLegendSym"}, "mark": {"type": "point", "filled": true, "color": "#000000", "size": 190, "opacity": 1},
    "encoding": {"x": {"field": "d", "type": "quantitative", "axis": {"orient": "top", "values": [0.1, 0.2, 0.3, 0.4, 0.6, 0.7, 0.8, 0.9, 1.1, 1.2, 1.3, 1.4], "tickSize": 13, "labels": false, "title": null, "domain": false}},
                 "y": {"field": "p", "type": "quantitative", "axis": null},
                 "shape": {"field": "comp", "type": "nominal", "legend": null}}},
   {"data": {"name": "phaseLegendText"}, "mark": {"type": "text", "align": "left", "baseline": "middle", "font": "Liberation Sans", "fontSize": 32, "color": "#000000"},
    "encoding": {"x": {"field": "d", "type": "quantitative", "axis": null}, "y": {"field": "p", "type": "quantitative", "axis": null}, "text": {"field": "text"}}},
   {"data": {"name": "polarityText"}, "mark": {"type": "text", "align": "center", "baseline": "middle", "font": "Liberation Sans", "fontSize": 31, "color": "#f26b1d"},
    "encoding": {"x": {"field": "d", "type": "quantitative", "axis": null}, "y": {"field": "p", "type": "quantitative", "axis": null}, "text": {"field": "text"}}}
  ],
  "resolve": {"axis": {"x": "independent", "y": "independent"}}},
 {"width": 1370, "height": 171,
  "layer": [
   {"data": {"name": "alt"}, "mark": {"type": "line", "color": "#000000", "strokeWidth": 3, "strokeJoin": "round"},
    "encoding": {"x": {"field": "d", "type": "quantitative", "scale": {"domain": [0, 1.585], "nice": false, "zero": false}, "axis": {"orient": "bottom", "values": [0, 0.5, 1, 1.5], "tickSize": 25, "labels": false, "title": null, "domain": true}},
                 "y": {"field": "a", "type": "quantitative", "scale": {"domain": [0, 30], "nice": false, "zero": false}, "axis": {"orient": "left", "values": [0, 10, 20, 30], "tickSize": 25, "labelPadding": 22, "title": "Altitude [m]", "titleX": -164, "titleBaseline": "alphabetic", "domain": true}}}},
   {"data": {"name": "alt"}, "mark": {"type": "line", "color": "#000000", "strokeWidth": 3, "opacity": 0},
    "encoding": {"x": {"field": "d", "type": "quantitative", "axis": {"orient": "bottom", "values": [0.1, 0.2, 0.3, 0.4, 0.6, 0.7, 0.8, 0.9, 1.1, 1.2, 1.3, 1.4], "tickSize": 13, "labels": false, "title": null, "domain": false}},
                 "y": {"field": "a", "type": "quantitative", "axis": {"orient": "left", "values": [5, 15, 25], "tickSize": 13, "labels": false, "title": null, "domain": false}}}},
   {"data": {"name": "alt"}, "mark": {"type": "line", "color": "#000000", "strokeWidth": 3, "opacity": 0},
    "encoding": {"x": {"field": "d", "type": "quantitative", "axis": {"orient": "top", "values": [0, 0.5, 1, 1.5], "tickSize": 25, "labels": false, "title": null, "domain": true}},
                 "y": {"field": "a", "type": "quantitative", "axis": {"orient": "right", "values": [0, 5, 10, 15, 20, 25, 30], "tickSize": 23, "labels": false, "title": null, "domain": true}}}},
   {"data": {"name": "alt"}, "mark": {"type": "line", "color": "#000000", "strokeWidth": 3, "opacity": 0},
    "encoding": {"x": {"field": "d", "type": "quantitative", "axis": {"orient": "top", "values": [0.1, 0.2, 0.3, 0.4, 0.6, 0.7, 0.8, 0.9, 1.1, 1.2, 1.3, 1.4], "tickSize": 13, "labels": false, "title": null, "domain": false}},
                 "y": {"field": "a", "type": "quantitative", "axis": null}}}
  ],
  "resolve": {"axis": {"x": "independent", "y": "independent"}}},
 {"width": 1370, "height": 341,
  "layer": [
   {"data": {"name": "bathy"}, "mark": {"type": "area", "color": "#000000", "opacity": 1, "clip": true},
    "encoding": {"x": {"field": "d", "type": "quantitative", "scale": {"domain": [0, 1.585], "nice": false, "zero": false}, "axis": {"orient": "bottom", "values": [0, 0.5, 1, 1.5], "tickSize": 25, "labels": true, "format": ".1f", "labelPadding": 19, "title": "Distance [km]", "titleY": 120, "titleBaseline": "alphabetic", "domain": true}},
                 "y": {"field": "z", "type": "quantitative", "scale": {"domain": [2400, 2650], "reverse": true, "nice": false, "zero": false}, "axis": {"orient": "left", "values": [2400, 2500, 2600], "format": "d", "tickSize": 25, "labelPadding": 22, "title": "Depth [m]", "titleX": -164, "titleBaseline": "alphabetic", "domain": true}},
                 "y2": {"datum": 2650}}},
   {"data": {"name": "track"}, "mark": {"type": "line", "color": "#33ee33", "strokeWidth": 9, "strokeJoin": "round"},
    "encoding": {"x": {"field": "d", "type": "quantitative", "axis": {"orient": "bottom", "values": [0.1, 0.2, 0.3, 0.4, 0.6, 0.7, 0.8, 0.9, 1.1, 1.2, 1.3, 1.4], "tickSize": 13, "labels": false, "title": null, "domain": false}},
                 "y": {"field": "z", "type": "quantitative", "axis": {"orient": "left", "values": [2450, 2550, 2650], "tickSize": 13, "labels": false, "title": null, "domain": false}}}},
   {"data": {"name": "samples"}, "mark": {"type": "circle", "color": "#ff0000", "size": 400, "opacity": 1},
    "encoding": {"x": {"field": "d", "type": "quantitative", "axis": {"orient": "top", "values": [0, 0.5, 1, 1.5], "tickSize": 25, "labels": false, "title": null, "domain": true}},
                 "y": {"field": "z", "type": "quantitative", "axis": {"orient": "right", "values": [2400, 2450, 2500, 2550, 2600, 2650], "tickSize": 23, "labels": false, "title": null, "domain": true}}}},
   {"data": {"name": "depthLegendDot"}, "mark": {"type": "circle", "color": "#ff0000", "size": 400, "opacity": 1},
    "encoding": {"x": {"field": "d", "type": "quantitative", "axis": {"orient": "top", "values": [0.1, 0.2, 0.3, 0.4, 0.6, 0.7, 0.8, 0.9, 1.1, 1.2, 1.3, 1.4], "tickSize": 13, "labels": false, "title": null, "domain": false}},
                 "y": {"field": "z", "type": "quantitative", "axis": null}}},
   {"data": {"name": "depthLegendLine"}, "mark": {"type": "rule", "color": "#33ee33", "strokeWidth": 9},
    "encoding": {"x": {"field": "d", "type": "quantitative", "axis": null}, "x2": {"field": "d2"}, "y": {"field": "z", "type": "quantitative", "axis": null}}},
   {"data": {"name": "depthLegendText"}, "mark": {"type": "text", "align": "left", "baseline": "middle", "font": "Liberation Sans", "fontSize": 32, "color": "#000000"},
    "encoding": {"x": {"field": "d", "type": "quantitative", "axis": null}, "y": {"field": "z", "type": "quantitative", "axis": null}, "text": {"field": "text"}}},
   {"data": {"name": "sampleLabels"}, "transform": [{"filter": "datum.pos === 'left'"}], "mark": {"type": "text", "align": "left", "baseline": "middle", "font": "'Liberation Sans Narrow', 'Liberation Sans'", "fontWeight": "bold", "fontSize": 26, "color": "#ff0000"},
    "encoding": {"x": {"field": "d", "type": "quantitative", "axis": null}, "y": {"field": "z", "type": "quantitative", "axis": null}, "text": {"field": "text"}}},
   {"data": {"name": "sampleLabels"}, "transform": [{"filter": "datum.pos === 'center'"}], "mark": {"type": "text", "align": "center", "baseline": "middle", "font": "'Liberation Sans Narrow', 'Liberation Sans'", "fontWeight": "bold", "fontSize": 26, "color": "#ff0000"},
    "encoding": {"x": {"field": "d", "type": "quantitative", "axis": null}, "y": {"field": "z", "type": "quantitative", "axis": null}, "text": {"field": "text"}}},
   {"data": {"name": "amText"}, "mark": {"type": "text", "align": "center", "baseline": "middle", "font": "Liberation Sans", "fontSize": 32, "color": "#000000"},
    "encoding": {"x": {"field": "d", "type": "quantitative", "axis": null}, "y": {"field": "z", "type": "quantitative", "axis": null}, "text": {"field": "text"}}},
   {"data": {"name": "amArrows"}, "mark": {"type": "rule", "color": "#000000", "strokeWidth": 2.5, "strokeDash": [3, 3]},
    "encoding": {"x": {"field": "d", "type": "quantitative", "axis": null}, "y": {"field": "top", "type": "quantitative", "axis": null}, "y2": {"field": "bot"}}},
   {"data": {"name": "amArrows"}, "mark": {"type": "point", "shape": "M -1 -1.1 L 0 0 L 1 -1.1", "filled": false, "size": 196, "strokeWidth": 2.5, "color": "#000000", "opacity": 1},
    "encoding": {"x": {"field": "d", "type": "quantitative", "axis": null}, "y": {"field": "bot", "type": "quantitative", "axis": null}}},
   {"data": {"name": "yokoArrow"}, "mark": {"type": "rule", "color": "#ee11ee", "strokeWidth": 4},
    "encoding": {"x": {"field": "d", "type": "quantitative", "axis": null}, "x2": {"field": "d2"}, "y": {"field": "z", "type": "quantitative", "axis": null}}},
   {"data": {"name": "yokoHeads"}, "transform": [{"filter": "datum.end === 'L'"}], "mark": {"type": "point", "shape": "M 1.1 -1 L 0 0 L 1.1 1", "filled": false, "size": 324, "strokeWidth": 4, "color": "#ee11ee", "opacity": 1},
    "encoding": {"x": {"field": "d", "type": "quantitative", "axis": null}, "y": {"field": "z", "type": "quantitative", "axis": null}}},
   {"data": {"name": "yokoHeads"}, "transform": [{"filter": "datum.end === 'R'"}], "mark": {"type": "point", "shape": "M -1.1 -1 L 0 0 L -1.1 1", "filled": false, "size": 324, "strokeWidth": 4, "color": "#ee11ee", "opacity": 1},
    "encoding": {"x": {"field": "d", "type": "quantitative", "axis": null}, "y": {"field": "z", "type": "quantitative", "axis": null}}},
   {"data": {"name": "yokoText"}, "mark": {"type": "text", "align": "right", "baseline": "middle", "font": "Liberation Sans", "fontWeight": "bold", "fontSize": 34, "color": "#ee11ee"},
    "encoding": {"x": {"field": "d", "type": "quantitative", "axis": null}, "y": {"field": "z", "type": "quantitative", "axis": null}, "text": {"field": "text"}}},
   {"data": {"name": "seafloorText"}, "mark": {"type": "text", "align": "right", "baseline": "middle", "font": "Liberation Sans", "fontSize": 38, "color": "#ffffff"},
    "encoding": {"x": {"field": "d", "type": "quantitative", "axis": null}, "y": {"field": "z", "type": "quantitative", "axis": null}, "text": {"field": "text"}}}
  ],
  "resolve": {"axis": {"x": "independent", "y": "independent"}}}
]
}
